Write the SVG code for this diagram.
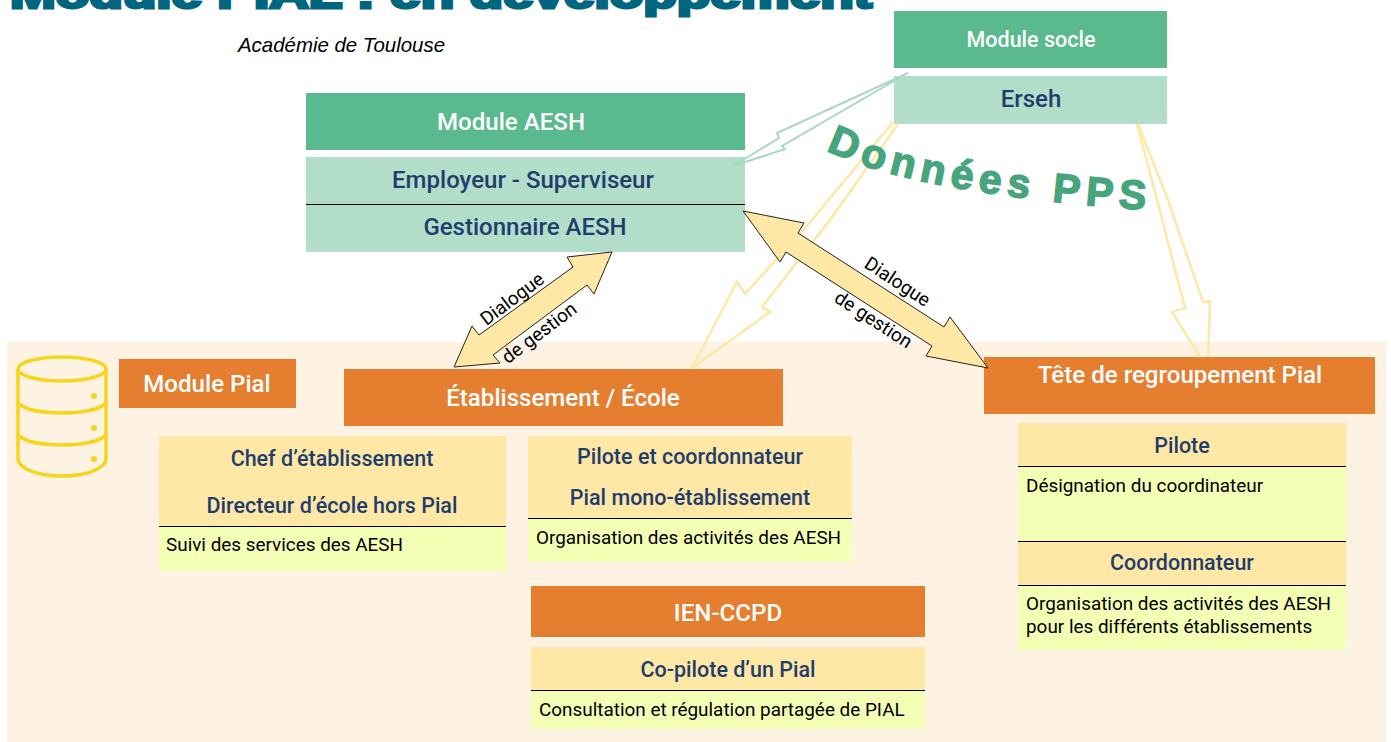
<svg xmlns="http://www.w3.org/2000/svg" width="1391" height="742" viewBox="0 0 1391 742">
<style>
text{font-family:Roboto,"Liberation Sans",sans-serif}
.h{font-size:24.100px;fill:#fff;font-weight:500;text-anchor:middle}
.s{font-size:21.500px;fill:#1f3d6d;font-weight:500;text-anchor:middle}
.m{font-size:24px;fill:#1f3d6d;font-weight:500;text-anchor:middle}
.b{font-size:18.900px;fill:#000}
.d{font-size:19px;fill:#000;text-anchor:middle}
.g{fill:#5bb98f}.l{fill:#b2ddc9}.o{fill:#e67e30}.y{fill:#ffe8a6}.v{fill:#f4ffb6}
.r{stroke:#000;stroke-width:1.2}
.a{fill:#ffe8a6;stroke:#222;stroke-width:1}
.f{fill:none;stroke:#ffe8a6;stroke-width:2.500}
.t{fill:none;stroke:#a8d8c2;stroke-width:2}
.c{fill:none;stroke:#f5d61d;stroke-width:3.500}
.p{fill:#f5d61d}
</style>
<rect x="7" y="342" width="1379" height="400" fill="#fef2e3"/>
<text x="10" y="8" font-size="40" font-weight="700" textLength="862" lengthAdjust="spacingAndGlyphs" style="font-family:'Liberation Sans',sans-serif;stroke:#006680;stroke-width:3" fill="#006680">Module PIAL : en développement</text>
<text x="238" y="52" font-size="21" font-style="italic" fill="#000" style="font-family:'Liberation Sans',sans-serif" textLength="207" lengthAdjust="spacingAndGlyphs">Académie de Toulouse</text>

<g id="module-socle"><rect class="g" x="894" y="11" width="273" height="57"/><text class="h" x="1031" y="47" style="font-size:21.500px">Module socle</text></g>
<g id="erseh"><rect class="l" x="894" y="76" width="273" height="48"/><text class="m" x="1031" y="107">Erseh</text></g>

<g id="module-aesh"><rect class="g" x="306" y="93" width="439" height="57"/><text class="h" x="511" y="130">Module AESH</text></g>
<g id="employeur"><rect class="l" x="306" y="157" width="439" height="95"/><path class="r" d="M306 204.500H745"/>
<text class="m" x="523" y="188">Employeur - Superviseur</text><text class="m" x="525" y="235">Gestionnaire AESH</text></g>

<g id="database"><ellipse class="c" cx="62" cy="369" rx="44" ry="12"/>
<path class="c" d="M18 369V458C18 469 38 476 62 476S106 469 106 458V369M18 403C24 409 40 413 62 413S100 409 106 403M18 435C24 441 40 445 62 445S100 441 106 435"/>
<circle class="p" cx="94" cy="396" r="3"/><circle class="p" cx="94" cy="428" r="3"/><circle class="p" cx="94" cy="459" r="3"/></g>

<g id="module-pial"><rect class="o" x="119" y="359" width="177" height="49"/><text class="h" x="207" y="392">Module Pial</text></g>
<g id="etablissement"><rect class="o" x="344" y="369" width="439" height="57"/><text class="h" x="563" y="406">Établissement / École</text></g>
<g id="tete"><rect class="o" x="984" y="357" width="391" height="57"/><text class="h" x="1180" y="383">Tête de regroupement Pial</text></g>

<g id="chef"><rect class="y" x="159" y="436" width="347" height="91"/><rect class="v" x="159" y="527" width="347" height="44"/><path class="r" d="M159 526.500H506"/>
<text class="s" x="332" y="466">Chef d’établissement</text><text class="s" x="332" y="513">Directeur d’école hors Pial</text>
<text class="b" x="166" y="551">Suivi des services des AESH</text></g>

<g id="pilote-coord"><rect class="y" x="528" y="436" width="324" height="83"/><rect class="v" x="528" y="519" width="324" height="43"/><path class="r" d="M528 518.500H852"/>
<text class="s" x="690" y="464">Pilote et coordonnateur</text><text class="s" x="690" y="505">Pial mono-établissement</text>
<text class="b" x="536" y="544">Organisation des activités des AESH</text></g>

<g id="ien"><rect class="o" x="531" y="586" width="394" height="51"/><text class="h" x="728" y="621">IEN-CCPD</text></g>
<g id="copilote"><rect class="y" x="531" y="647" width="394" height="44"/><rect class="v" x="531" y="691" width="394" height="38"/><path class="r" d="M531 690.500H925"/>
<text class="s" x="728" y="677">Co-pilote d’un Pial</text><text class="b" x="539" y="716">Consultation et régulation partagée de PIAL</text></g>

<g id="pilote"><rect class="y" x="1018" y="423" width="328" height="44"/><rect class="v" x="1018" y="467" width="328" height="75"/><path class="r" d="M1018 466.500H1346"/>
<text class="s" x="1182" y="453">Pilote</text><text class="b" x="1026" y="492">Désignation du coordinateur</text></g>
<g id="coordonnateur"><rect class="y" x="1018" y="542" width="328" height="44"/><rect class="v" x="1018" y="586" width="328" height="64"/><path class="r" d="M1018 541.500H1346M1018 585.500H1346"/>
<text class="s" x="1182" y="570">Coordonnateur</text><text class="b" x="1026" y="610">Organisation des activités des AESH</text><text class="b" x="1026" y="633">pour les différents établissements</text></g>

<g id="connectors">
<path class="t" d="M908 73L777 133L779 138L733 166L785 149L782 146L894 81"/>
<path class="f" d="M893 122L812 220L745 294L737 282L692 368L770 312L762 307L830 220L898 124"/>
<path class="f" d="M1137 124L1157 200L1185 308L1172 312L1200 357M1208 357L1210 301L1203 302L1168 200L1138 124"/>
<path class="a" d="M612 252L594 294L587 285L493 355L500 363L454 367L472 326L479 335L573 267L567 257Z"/>
<path class="a" d="M743 211L804 223L798 233L944 327L950 317L988 368L926 356L932 346L786 252L780 262Z"/>
<text class="d" transform="translate(516 304) rotate(-37)">Dialogue</text>
<text class="d" transform="translate(543 338) rotate(-37)">de gestion</text>
<text class="d" transform="translate(894 287) rotate(33)">Dialogue</text>
<text class="d" transform="translate(870 325) rotate(33)">de gestion</text>
</g>

<g id="donnees-pps"><path id="dp" d="M826 150Q913 194 1160 211" fill="none"/>
<text font-size="41" font-weight="700" fill="#46a57c" stroke="#46a57c" stroke-width="1.500" letter-spacing="6" style="font-family:'Liberation Sans',sans-serif"><textPath href="#dp">Données PPS</textPath></text></g>
</svg>
